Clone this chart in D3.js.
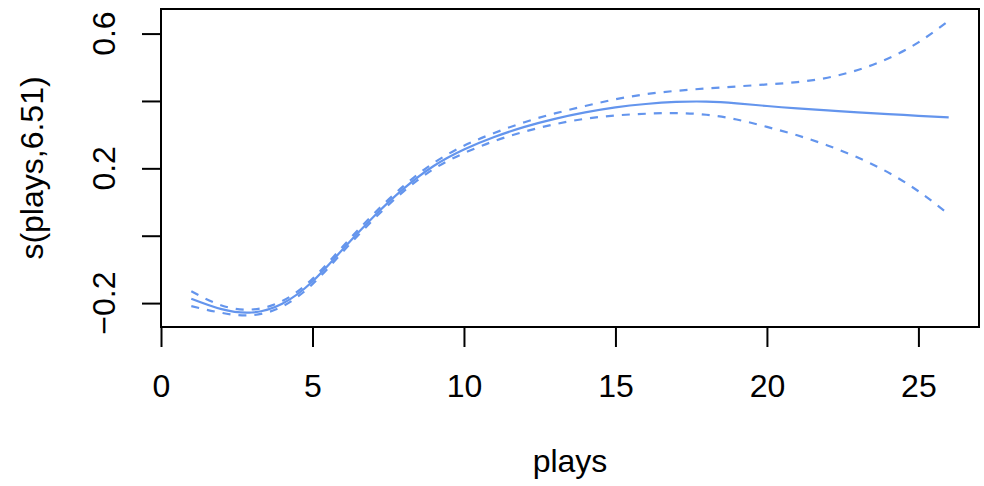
<!DOCTYPE html>
<html>
<head>
<meta charset="utf-8">
<script src="https://cdn.jsdelivr.net/npm/d3@7"></script>
<style>
  body { margin: 0; background: #fff; }
  text { font-family: "Liberation Sans", Arial, sans-serif; fill: #000; }
</style>
</head>
<body>
<svg width="984" height="486"></svg>
<script>
// plays 1..26, smooth term estimate and its two-se band
const plays = [1,2,3,4,5,6,7,8,9,10,11,12,13,14,15,16,17,18,19,20,21,22,23,24,25,26];
const fit = [-0.187,-0.218,-0.228,-0.202,-0.136,-0.040,0.055,0.139,0.207,0.256,0.293,0.323,0.347,
             0.366,0.381,0.391,0.397,0.398,0.393,0.385,0.378,0.372,0.366,0.361,0.356,0.351];
const upper = [-0.165,-0.207,-0.219,-0.194,-0.128,-0.032,0.063,0.147,0.216,0.267,0.305,0.337,0.363,
               0.385,0.405,0.420,0.430,0.437,0.443,0.449,0.456,0.469,0.492,0.526,0.574,0.638];
const lower = [-0.209,-0.229,-0.236,-0.210,-0.144,-0.048,0.047,0.131,0.198,0.245,0.281,0.309,0.331,
               0.347,0.357,0.362,0.364,0.359,0.345,0.323,0.298,0.268,0.232,0.188,0.132,0.064];

const xTicks = [0,5,10,15,20,25];
const yTicks = [-0.2,0,0.2,0.4,0.6];
const yLabels = [-0.2,0.2,0.6];   // R drops the labels that would overlap

const svg = d3.select("svg");
const mLeft = 161, mRight = 979, mTop = 9, mBottom = 327;

// R style axis range: data extent widened by 4%
function pad(ext) { const d = (ext[1] - ext[0]) * 0.04; return [ext[0] - d, ext[1] + d]; }
const x = d3.scaleLinear().domain(pad(d3.extent(plays))).range([mLeft, mRight]);
const y = d3.scaleLinear().domain(pad(d3.extent(lower.concat(upper)))).range([mBottom, mTop]);

const line = (vals) => d3.line()
    .x((d, i) => x(plays[i]))
    .y(d => y(d))
    .curve(d3.curveNatural)(vals);

const blue = "#6495ED";
svg.append("path").attr("d", line(fit))
    .attr("fill", "none").attr("stroke", blue).attr("stroke-width", 2.2);
[upper, lower].forEach(s => {
  svg.append("path").attr("d", line(s))
      .attr("fill", "none").attr("stroke", blue).attr("stroke-width", 2.2)
      .attr("stroke-dasharray", "8,8");
});

// box
svg.append("rect")
    .attr("x", mLeft).attr("y", mTop)
    .attr("width", mRight - mLeft).attr("height", mBottom - mTop)
    .attr("fill", "none").attr("stroke", "#000").attr("stroke-width", 2);

// x axis
const gx = svg.append("g").attr("transform", "translate(0," + mBottom + ")");
gx.call(d3.axisBottom(x).tickValues(xTicks).tickSize(20).tickFormat(d3.format("d")));
gx.select(".domain").attr("d", "M" + x(0) + ",0H" + x(25)).attr("stroke-width", 2);
gx.selectAll(".tick line").attr("stroke-width", 2);
gx.selectAll(".tick text").attr("font-size", 32).attr("font-family", null).attr("dy", null)
    .attr("y", 70);

// y axis
const gy = svg.append("g").attr("transform", "translate(" + mLeft + ",0)");
gy.call(d3.axisLeft(y).tickValues(yTicks).tickSize(19).tickFormat(""));
gy.select(".domain").attr("d", "M0," + y(-0.2) + "V" + y(0.6)).attr("stroke-width", 2);
gy.selectAll(".tick line").attr("stroke-width", 2);

svg.selectAll(".ylab").data(yLabels).enter().append("text")
    .attr("class", "ylab")
    .attr("transform", d => "translate(115," + y(d) + ") rotate(-90)")
    .attr("text-anchor", "middle")
    .attr("font-size", 32)
    .text(d => d3.format(".1f")(d).replace("-", "\u2212"));

// axis titles
svg.append("text")
    .attr("x", (mLeft + mRight) / 2).attr("y", 472)
    .attr("text-anchor", "middle").attr("font-size", 32)
    .text("plays");
svg.append("text")
    .attr("transform", "translate(43," + (mTop + mBottom) / 2 + ") rotate(-90)")
    .attr("text-anchor", "middle").attr("font-size", 32)
    .text("s(plays,6.51)");
</script>
</body>
</html>
